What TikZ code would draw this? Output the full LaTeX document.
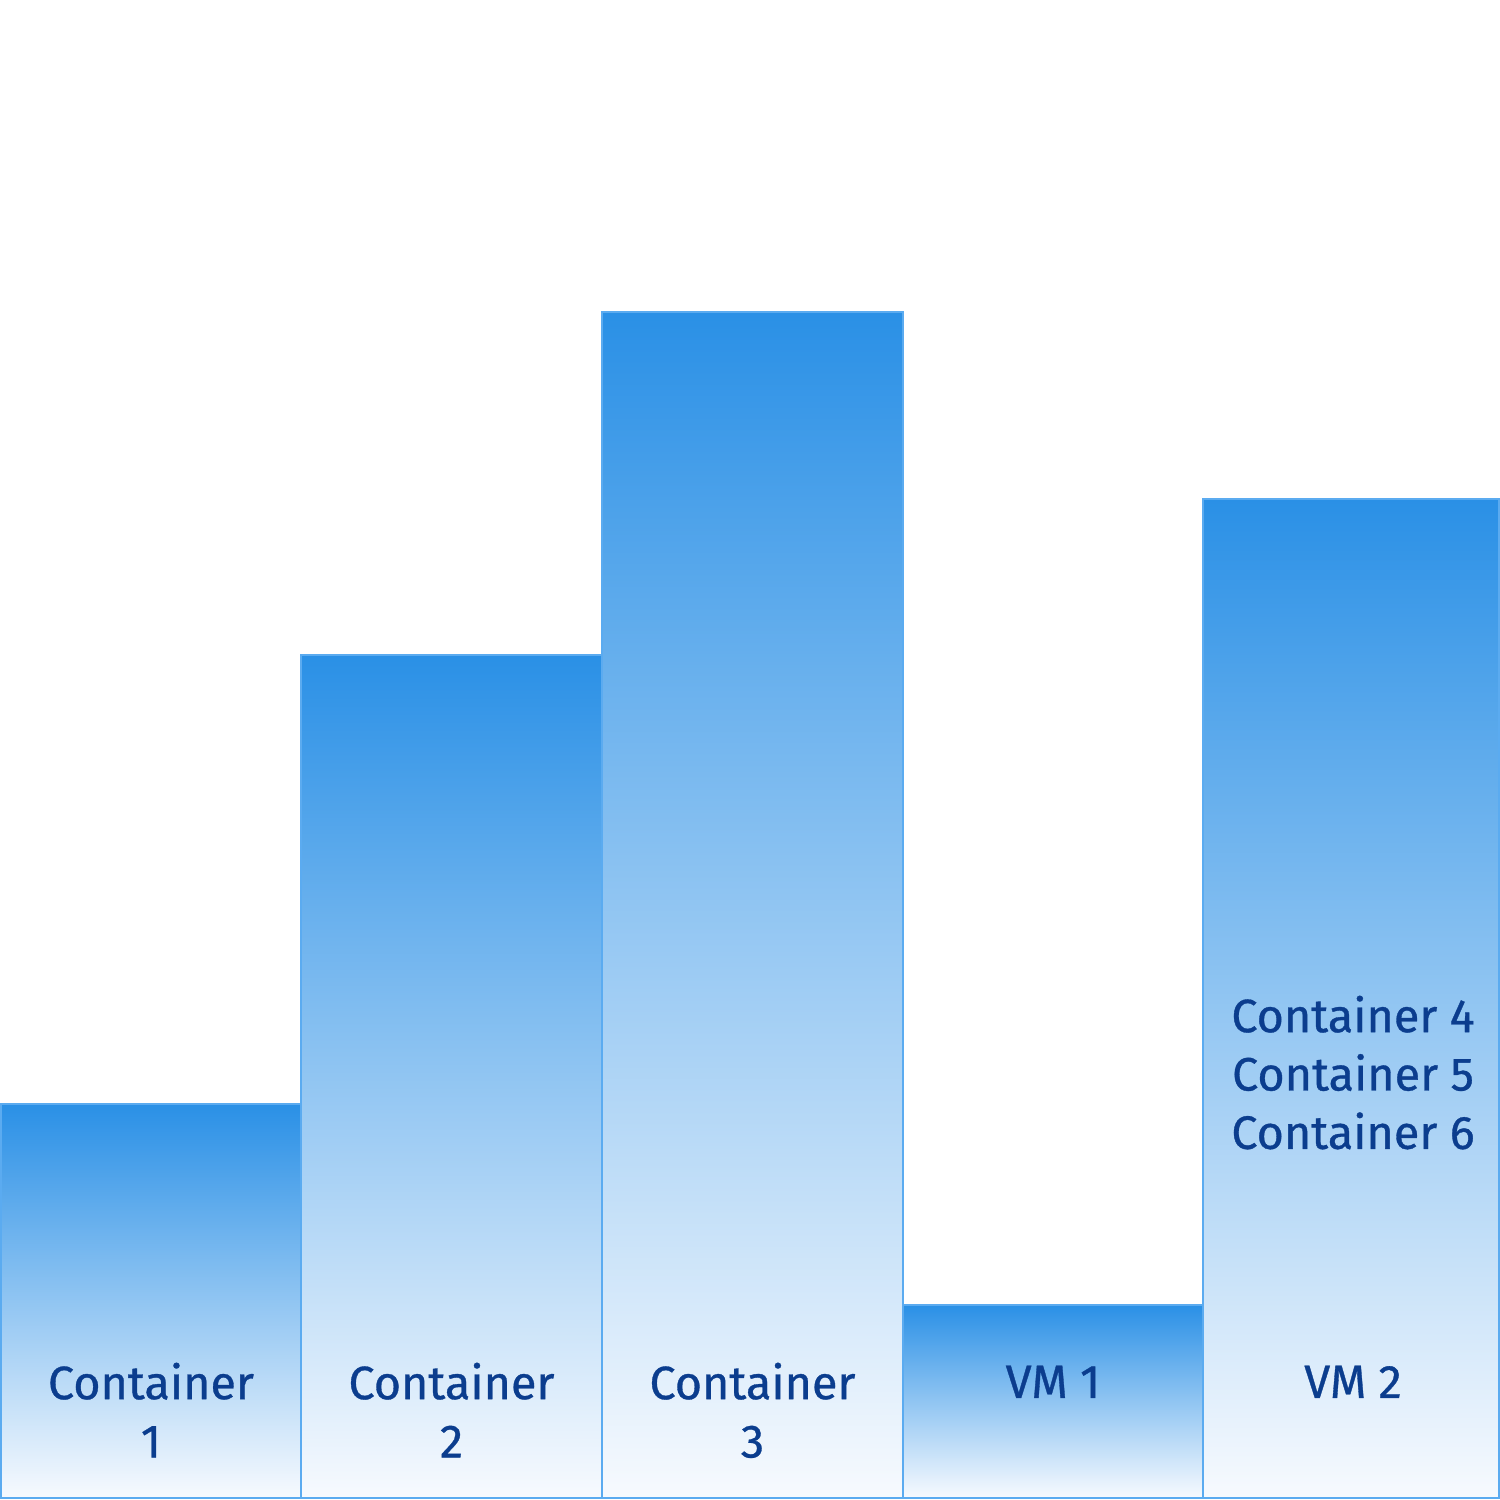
\documentclass[tikz,border=0pt]{standalone}
\usepackage{fontspec}
\setmainfont{Fira Sans}[FakeBold=0.7]
\definecolor{bartop}{HTML}{2A90E6}
\definecolor{barbot}{HTML}{F7FAFE}
\definecolor{edge}{HTML}{5BABF0}
\definecolor{ink}{HTML}{0B3D8E}
\tikzset{
  bar/.style={draw=edge,line width=0.5pt,top color=bartop,bottom color=barbot},
  lab/.style={font=\fontsize{13.3}{16.6}\selectfont\color{ink},align=center,inner sep=0pt,anchor=north},
}
\begin{document}
\begin{tikzpicture}[x=0.1mm,y=0.1mm]
\useasboundingbox (0,0) rectangle (1500,1500);
\fill[white] (0,0) rectangle (1500,1500);
% bars: left/right/top
\foreach \l/\r/\t in {1/301/396,301/602/845,602/903/1188,903/1203/195,1203/1499/1001}{
  \path[bar] (\l,2) rectangle (\r,\t);}
% labels
\node[lab] (c1) at (151,138) {Container\\1};
\node[lab] (c2) at (451.5,138) {Container\\2};
\node[lab] (c3) at (752.5,138) {Container\\3};
\node[lab] (vm1) at (1053,135) {VM 1};
\node[lab] (vm2) at (1353,135) {VM 2};
\node[lab] (c456) at (1353,505) {Container 4\\Container 5\\Container 6};
\end{tikzpicture}
\end{document}
